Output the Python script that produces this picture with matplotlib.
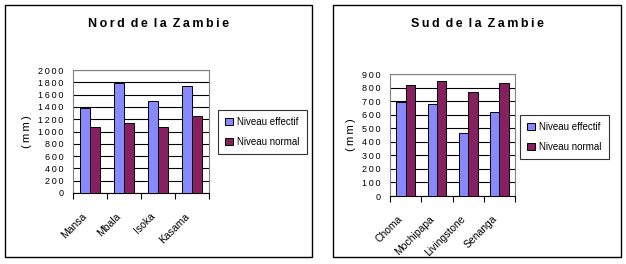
import numpy as np
import matplotlib.pyplot as plt
from matplotlib.patches import Rectangle

plt.rcParams['font.family'] = ['Liberation Sans', 'DejaVu Sans']

W, H = 626, 264

nord_villes = ['Mansa', 'Mbala', 'Isoka', 'Kasama']
nord_effectif = [1390, 1790, 1500, 1740]
nord_normal = [1080, 1140, 1080, 1260]

sud_villes = ['Choma', 'Mochipapa', 'Livingstone', 'Senanga']
sud_effectif = [690, 675, 465, 620]
sud_normal = [820, 845, 770, 830]

series = ['Niveau effectif', 'Niveau normal']

blue = '#8888ff'
maroon = '#862060'

fig = plt.figure(figsize=(W / 100, H / 100), dpi=100)


def spaced(s, gap=' \u2009'):
    # loose letter spacing, like the original
    return gap.join('\u2009'.join(word) for word in s.split(' '))


def px(x0, y0, x1, y1):
    return [x0 / W, 1 - y1 / H, (x1 - x0) / W, (y1 - y0) / H]


def panel(box, ax_box, title, villes, eff, norm, ymax, ystep, ylab_x, leg_box):
    # outer frame
    fig.add_artist(Rectangle((box[0] / W, 1 - box[3] / H), (box[2] - box[0]) / W,
                             (box[3] - box[1]) / H, transform=fig.transFigure,
                             fill=False, edgecolor='black', linewidth=1.0))
    fig.text((box[0] + box[2]) / 2 / W, 1 - 24 / H, spaced(title), ha='center',
             va='center', fontsize=9, fontweight='bold')
    ax = fig.add_axes(px(*ax_box))
    x = np.arange(len(villes))
    w = 0.3
    ax.bar(x - w / 2, eff, w, color=blue, edgecolor='black', linewidth=0.7,
           label=series[0], zorder=3)
    ax.bar(x + w / 2, norm, w, color=maroon, edgecolor='black', linewidth=0.7,
           label=series[1], zorder=3)
    ax.set_xlim(-0.5, len(villes) - 0.5)
    ax.set_ylim(0, ymax)
    yt = np.arange(0, ymax + 1, ystep)
    ax.set_yticks(yt)
    ax.set_yticklabels([spaced(str(v)) for v in yt])
    ax.yaxis.grid(True, color='black', linewidth=0.8, zorder=0)
    ax.tick_params(axis='y', length=0, labelsize=6.5, pad=7)
    ax.set_xticks(np.arange(len(villes) + 1) - 0.5)
    ax.set_xticklabels([])
    # labels end a few pixels left of the group centre, as in the original
    cat_px = (ax_box[2] - ax_box[0]) / len(villes)
    ax.set_xticks(x - 8 / cat_px, minor=True)
    ax.set_xticklabels(villes, minor=True, rotation=45, ha='right',
                       rotation_mode='anchor', fontsize=7.5)
    ax.tick_params(axis='x', which='major', length=4, direction='out', width=0.8)
    ax.tick_params(axis='x', which='minor', length=0, pad=13)
    for s in ['top', 'right', 'left']:
        ax.spines[s].set_color('#808080')
        ax.spines[s].set_linewidth(0.8)
    ax.spines['bottom'].set_color('black')
    ax.spines['bottom'].set_linewidth(0.8)
    fig.text(ylab_x / W, 1 - (ax_box[1] + ax_box[3]) / 2 / H, '(\u2009m\u2009m\u2009)',
             rotation=90, ha='center', va='center', fontsize=8)
    leg = ax.legend(loc='center left', bbox_to_anchor=(leg_box[0] / W, 1 - leg_box[1] / H),
                    bbox_transform=fig.transFigure, fontsize=7, frameon=True,
                    fancybox=False, edgecolor='black', handlelength=0.8,
                    handleheight=0.8, labelspacing=1.0, borderpad=0.7,
                    handletextpad=0.5, borderaxespad=0)
    leg.get_frame().set_linewidth(0.8)
    return ax


panel((5, 5, 312, 257), (73, 70, 209, 193), 'Nord de la Zambie',
      nord_villes, nord_effectif, nord_normal, 2000, 200, 27, (218, 132))
panel((333, 5, 621, 257), (390, 74, 515, 196), 'Sud de la Zambie',
      sud_villes, sud_effectif, sud_normal, 900, 100, 351, (520, 137))

fig.savefig('out.png', dpi=100)
